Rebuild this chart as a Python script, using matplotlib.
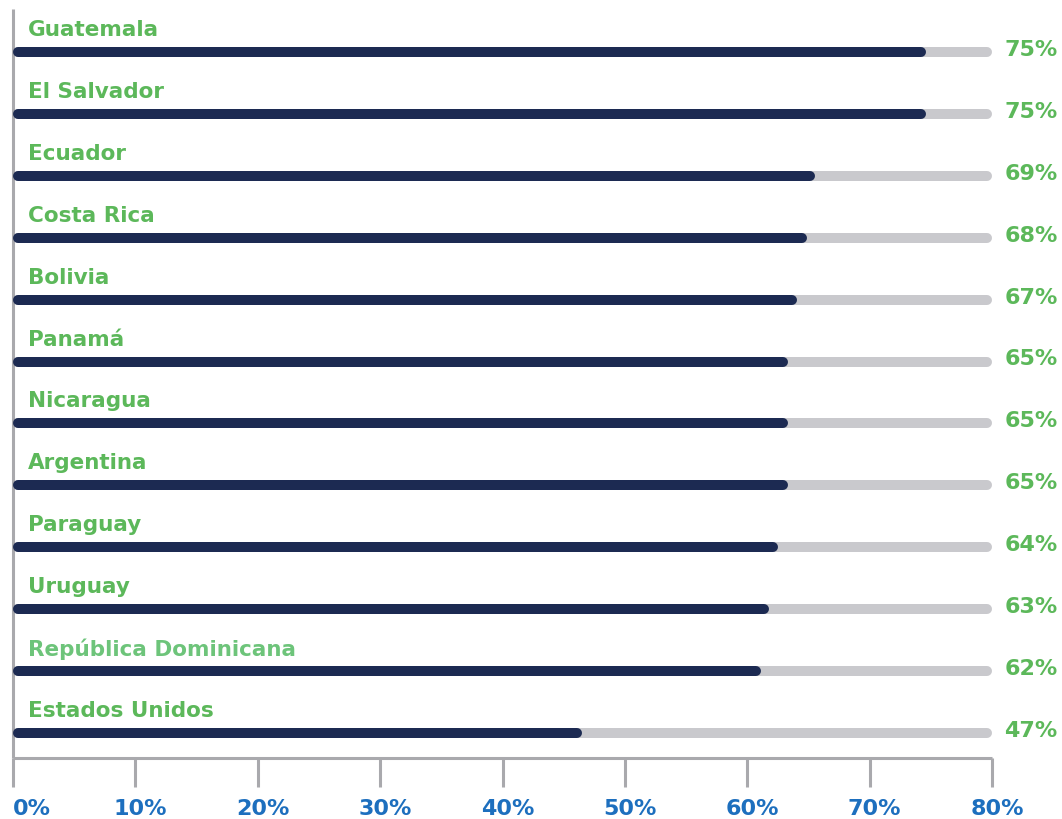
import matplotlib.pyplot as plt
import matplotlib.transforms as mtransforms

# datos
paises = ['Guatemala', 'El Salvador', 'Ecuador', 'Costa Rica', 'Bolivia', 'Panamá',
          'Nicaragua', 'Argentina', 'Paraguay', 'Uruguay', 'República Dominicana',
          'Estados Unidos']
largo_barra = [74.6, 74.6, 65.5, 64.9, 64.1, 63.3, 63.3, 63.3, 62.5, 61.8, 61.1, 46.5]
etiquetas = ['75%', '75%', '69%', '68%', '67%', '65%', '65%', '65%', '64%', '63%', '62%', '47%']
ticks = [0, 10, 20, 30, 40, 50, 60, 70, 80]
tick_labels = ['0%', '10%', '20%', '30%', '40%', '50%', '60%', '70%', '80%']
maximo = 80

verde = '#5CB85A'
verde_claro = '#6DC47A'
azul_marino = '#1C2A52'
gris_pista = '#C9C9CD'
gris_eje = '#A9A9AD'
azul = '#1D6FBE'

plt.rcParams['font.family'] = ['DejaVu Sans']

W, H = 1062, 820
fig = plt.figure(figsize=(W / 100, H / 100), dpi=100)
x0, x1 = 13, 992
ytop, ybot = 10, 759
ax = fig.add_axes([x0 / W, (H - ybot) / H, (x1 - x0) / W, (ybot - ytop) / H])

paso = 61.9
ax.set_xlim(0, maximo)
ax.set_ylim((ybot - 53) / paso, (ytop - 53) / paso)

px_unidad = (x1 - x0) / maximo
grosor_px = 10
cap = (grosor_px / 2) / px_unidad
lw = grosor_px * 0.72

ys = list(range(len(paises)))
ax.hlines(ys, cap, maximo - cap, colors=gris_pista, linewidth=lw,
          capstyle='round', clip_on=False, zorder=2)
ax.hlines(ys, cap, [v - cap for v in largo_barra], colors=azul_marino, linewidth=lw,
          capstyle='round', clip_on=False, zorder=3)

for i, (p, e) in enumerate(zip(paises, etiquetas)):
    col = verde_claro if p == 'República Dominicana' else verde
    ax.text(1.2, i - 0.37, p, color=col, fontsize=15.5, fontweight='bold',
            ha='left', va='center')
    ax.text(81.0, i - 0.05, e, color=verde, fontsize=16, fontweight='bold',
            ha='left', va='center', clip_on=False)

for s in ['top', 'right']:
    ax.spines[s].set_visible(False)
for s in ['left', 'bottom']:
    ax.spines[s].set_color(gris_eje)
    ax.spines[s].set_linewidth(2.2)
    ax.spines[s].set_capstyle('butt')

ax.set_yticks([])
ax.set_xticks(ticks)
ax.set_xticklabels(tick_labels, color=azul, fontsize=16, fontweight='bold')
ax.tick_params(axis='x', length=21, width=2.2, color=gris_eje, pad=8)

desplaza = mtransforms.ScaledTranslation(5 / 100, 0, fig.dpi_scale_trans)
etiquetas_x = ax.get_xticklabels()
for lab in etiquetas_x[1:]:
    lab.set_transform(lab.get_transform() + desplaza)
etiquetas_x[0].set_horizontalalignment('left')

fig.savefig('out.png', dpi=100)
